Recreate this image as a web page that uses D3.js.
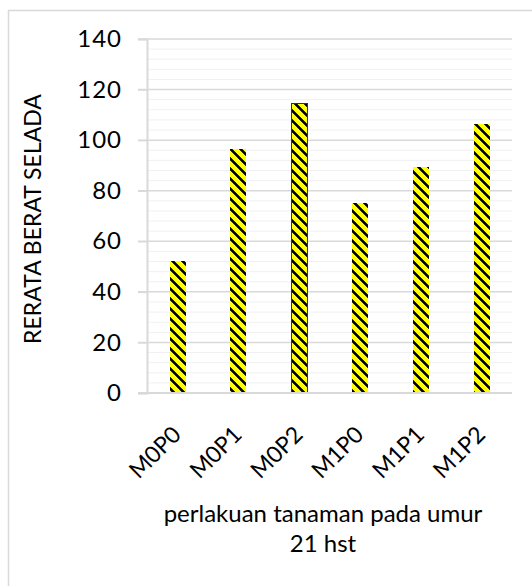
<!DOCTYPE html>
<html>
<head>
<meta charset="utf-8">
<script src="https://cdn.jsdelivr.net/npm/d3@7"></script>
<style>
  body { margin: 0; background: #fff; }
  text { font-family: Lato, "Open Sans", sans-serif; fill: #000; }
</style>
</head>
<body>
<script>
// data
const categories = ["M0P0", "M0P1", "M0P2", "M1P0", "M1P1", "M1P2"];
const values = [52.3, 96.5, 114.3, 75.3, 89.3, 106.5];
const yTicks = [0, 20, 40, 60, 80, 100, 120, 140];
const yTitle = "RERATA BERAT SELADA";
const xTitle = ["perlakuan tanaman pada umur", "21 hst"];

const w = 532, h = 586;
const plotL = 147, plotR = 512, plotT = 39, plotB = 393;

const svg = d3.select("body").append("svg")
  .attr("width", w)
  .attr("height", h);

// stripe pattern (yellow with black downward diagonals)
const defs = svg.append("defs");
const pat = defs.append("pattern")
  .attr("id", "stripes")
  .attr("patternUnits", "userSpaceOnUse")
  .attr("width", 10)
  .attr("height", 10);
pat.append("rect").attr("width", 10).attr("height", 10).attr("fill", "#ffff00");
for (let r = 0; r < 10; r++) {
  for (let k = 0; k < 4; k++) {
    pat.append("rect")
      .attr("x", (r + k) % 10)
      .attr("y", r)
      .attr("width", 1)
      .attr("height", 1)
      .attr("fill", k === 0 || k === 3 ? "#333300" : "#000");
  }
}

// outer chart border (cropped at right/bottom)
svg.append("path")
  .attr("d", `M8.5,${h} V10.5 H${w}`)
  .attr("fill", "none")
  .attr("stroke", "#d9d9d9")
  .attr("stroke-width", 1.5);

const x = d3.scaleBand().domain(categories).range([plotL, plotR]).paddingInner(0.74).paddingOuter(0.37);
const y = d3.scaleLinear().domain([0, 140]).range([plotB, plotT]);

// minor grid
svg.append("g").selectAll("line")
  .data(d3.range(4, 140, 4).filter(v => v % 20 !== 0))
  .enter().append("line")
  .attr("x1", plotL).attr("x2", plotR)
  .attr("y1", d => y(d)).attr("y2", d => y(d))
  .attr("stroke", "#f0f0f0")
  .attr("stroke-width", 1);

// major grid
svg.append("g").selectAll("line")
  .data(yTicks.filter(v => v > 0))
  .enter().append("line")
  .attr("x1", plotL - 9).attr("x2", plotR)
  .attr("y1", d => y(d)).attr("y2", d => y(d))
  .attr("stroke", "#d9d9d9")
  .attr("stroke-width", 1.5);

// y axis
const yAxis = d3.axisLeft(y).tickValues(yTicks).tickSize(9).tickPadding(16);
const gy = svg.append("g")
  .attr("transform", `translate(${plotL},0)`)
  .call(yAxis);
gy.select(".domain").attr("stroke", "#d9d9d9").attr("stroke-width", 2);
gy.selectAll(".tick line").attr("stroke", "#d9d9d9").attr("stroke-width", 1.5);
gy.selectAll(".tick text")
  .attr("font-size", 24)
  .attr("font-family", "Lato, sans-serif")
  .attr("letter-spacing", 1)
  .attr("fill", "#000");

// bars
svg.append("g").selectAll("rect")
  .data(values)
  .enter().append("rect")
  .attr("x", (d, i) => Math.round(x(categories[i])))
  .attr("y", d => y(d))
  .attr("width", Math.round(x.bandwidth()))
  .attr("height", d => plotB - y(d))
  .attr("fill", "url(#stripes)")
  .attr("shape-rendering", "crispEdges")
  .attr("stroke", (d, i) => i === 2 ? "#333" : "none")
  .attr("stroke-width", 1);

// x axis line
svg.append("line")
  .attr("x1", plotL - 9).attr("x2", plotR)
  .attr("y1", plotB).attr("y2", plotB)
  .attr("stroke", "#d9d9d9")
  .attr("stroke-width", 2);

// x tick labels
svg.append("g").selectAll("text")
  .data(categories)
  .enter().append("text")
  .attr("transform", d => `translate(${x(d) + x.bandwidth() / 2 + 5},${plotB + 43}) rotate(-45)`)
  .attr("text-anchor", "end")
  .attr("font-size", 23)
  .text(d => d);

// axis titles
svg.append("text")
  .attr("transform", `translate(41,219) rotate(-90)`)
  .attr("text-anchor", "middle")
  .attr("font-size", 23)
  .text(yTitle);

svg.append("g").selectAll("text")
  .data(xTitle)
  .enter().append("text")
  .attr("x", 323)
  .attr("y", (d, i) => 522 + i * 30)
  .attr("text-anchor", "middle")
  .attr("font-size", 24)
  .text(d => d);
</script>
</body>
</html>
